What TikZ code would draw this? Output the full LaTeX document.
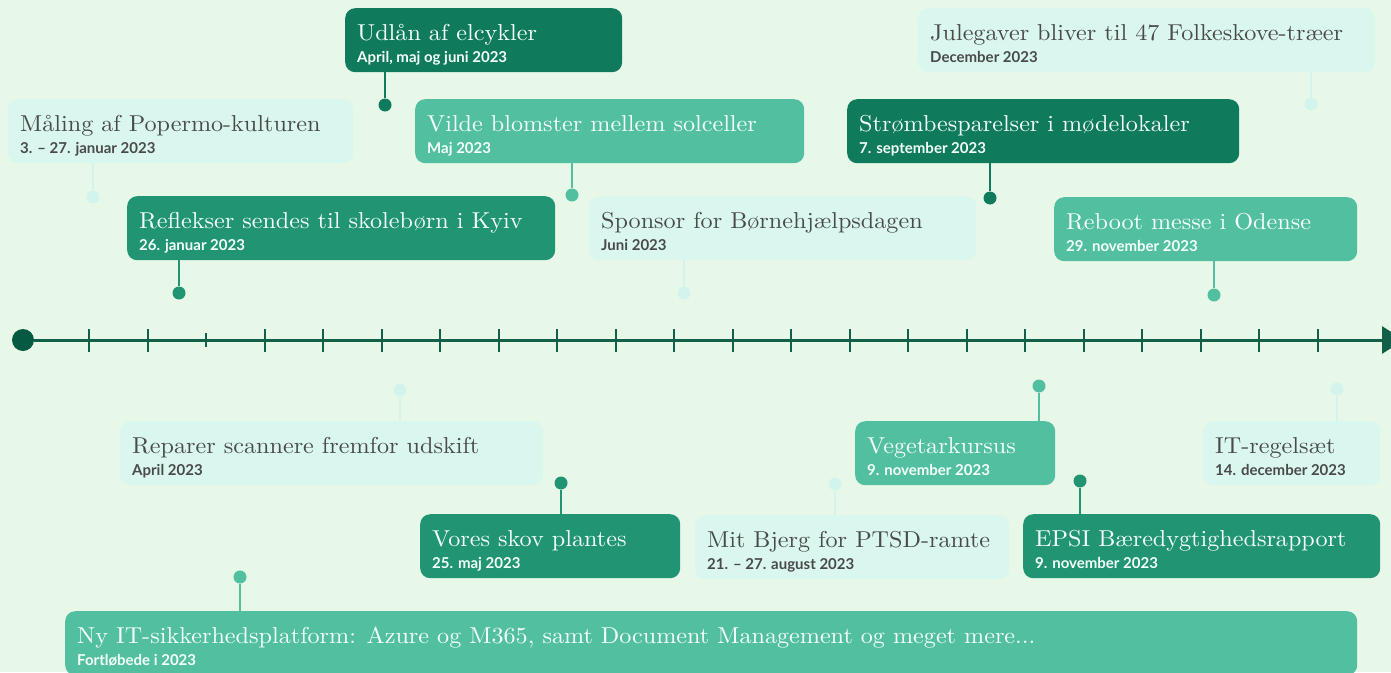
\documentclass[tikz,border=0pt]{standalone}
\usepackage{fontspec}
\newfontfamily\datefam{Lato}
\newfontfamily\ttlfam{lmroman10-regular.otf}[FakeStretch=1.05]
\usetikzlibrary{arrows.meta}
\definecolor{bg}{HTML}{E8F8E8}
\definecolor{cLightF}{HTML}{D9F7EE}
\definecolor{cLightT}{HTML}{4A4A4A}
\definecolor{cLightL}{HTML}{D3F4EC}
\definecolor{cMedF}{HTML}{52BFA0}
\definecolor{cMedT}{HTML}{F4FFFA}
\definecolor{cMedL}{HTML}{52BFA0}
\definecolor{cMidF}{HTML}{219474}
\definecolor{cMidT}{HTML}{F4FFFA}
\definecolor{cMidL}{HTML}{219474}
\definecolor{cDarkF}{HTML}{107A5D}
\definecolor{cDarkT}{HTML}{F4FFFA}
\definecolor{cDarkL}{HTML}{107A5D}
\definecolor{cLine}{HTML}{12604A}
\definecolor{cStart}{HTML}{065A41}
\tikzset{
  evbox/.style={rounded corners=10pt, anchor=north west, inner sep=0pt, minimum height=64pt},
  ttl/.style={anchor=base west, inner sep=0pt, font=\ttlfam\fontsize{23}{27}\selectfont},
  dte/.style={anchor=base west, inner sep=0pt, font=\datefam\bfseries\fontsize{15}{17}\selectfont},
  evdot/.style={circle, inner sep=0pt, minimum size=13pt},
  stem/.style={line width=1.6pt},
  tick/.style={line width=2pt, draw=cLine},
  axis/.style={line width=3pt, draw=cLine},
}
% 1 name, 2 left, 3 top, 4 right, 5 kind, 6 title, 7 date, 8 dot x, 9 dot y
\newcommand\evt[9]{%
  \node[evbox, fill=c#5F, minimum width={#4-#2}] (#1) at (#2,#3) {};
  \node[ttl, text=c#5T] (#1-t) at ([shift={(12,32)}]#1.north west) {#6};
  \node[dte, text=c#5T] (#1-d) at ([shift={(12,54)}]#1.north west) {#7};
  \node[evdot, fill=c#5L] (#1-p) at (#8,#9) {};
  \ifdim #9pt<#3pt
    \draw[stem, draw=c#5L] (#1-p) -- (#1-p |- #1.north);
  \else
    \draw[stem, draw=c#5L] (#1-p) -- (#1-p |- #1.south);
  \fi
}
\begin{document}
\begin{tikzpicture}[x=1pt,y=-1pt]
\fill[bg] (0,0) rectangle (1391,672);
\useasboundingbox (0,0) rectangle (1391,672);
% axis
\node[circle, fill=cStart, minimum size=22pt, inner sep=0pt] (start) at (23,340) {};
\coordinate (end) at (1404,340);
\draw[axis, -{Triangle[length=22pt,width=27pt]}, color=cLine] (start) -- (end);
\foreach \i in {0,...,21}{
  \pgfmathsetmacro\tx{89+58.5*\i}
  \ifnum\i=2
    \draw[tick] (\tx,333) -- (\tx,347);
  \else
    \draw[tick] (\tx,329) -- (\tx,352);
  \fi
}
% top events
\evt{a}{8}{99}{353}{Light}{Måling af Popermo-kulturen}{3. – 27. januar 2023}{93}{197}
\evt{b}{345}{8}{622}{Dark}{Udlån af elcykler}{April, maj og juni 2023}{385}{105}
\evt{c}{127}{196}{555}{Mid}{Reflekser sendes til skolebørn i Kyiv}{26. januar 2023}{179}{293}
\evt{d}{415}{99}{804}{Med}{Vilde blomster mellem solceller}{Maj 2023}{572}{195}
\evt{e}{589}{196}{976}{Light}{Sponsor for Børnehjælpsdagen}{Juni 2023}{684}{293}
\evt{f}{847}{99}{1239}{Dark}{Strømbesparelser i mødelokaler}{7. september 2023}{990}{198}
\evt{g}{918}{8}{1375}{Light}{Julegaver bliver til 47 Folkeskove-træer}{December 2023}{1311}{104}
\evt{h}{1054}{197}{1357}{Med}{Reboot messe i Odense}{29. november 2023}{1214}{295}
% bottom events
\evt{i}{120}{421}{543}{Light}{Reparer scannere fremfor udskift}{April 2023}{400}{390}
\evt{j}{855}{421}{1055}{Med}{Vegetarkursus}{9. november 2023}{1039}{386}
\evt{k}{1203}{421}{1380}{Light}{IT-regelsæt}{14. december 2023}{1337}{389}
\evt{l}{420}{514}{680}{Mid}{Vores skov plantes}{25. maj 2023}{561}{483}
\evt{m}{695}{515}{1009}{Light}{Mit Bjerg for PTSD-ramte}{21. – 27. august 2023}{835}{484}
\evt{n}{1023}{514}{1380}{Mid}{EPSI Bæredygtighedsrapport}{9. november 2023}{1080}{481}
\evt{o}{65}{611}{1357}{Med}{Ny IT-sikkerhedsplatform: Azure og M365, samt Document Management og meget mere...}{Fortløbede i 2023}{240}{577}
\end{tikzpicture}
\end{document}
